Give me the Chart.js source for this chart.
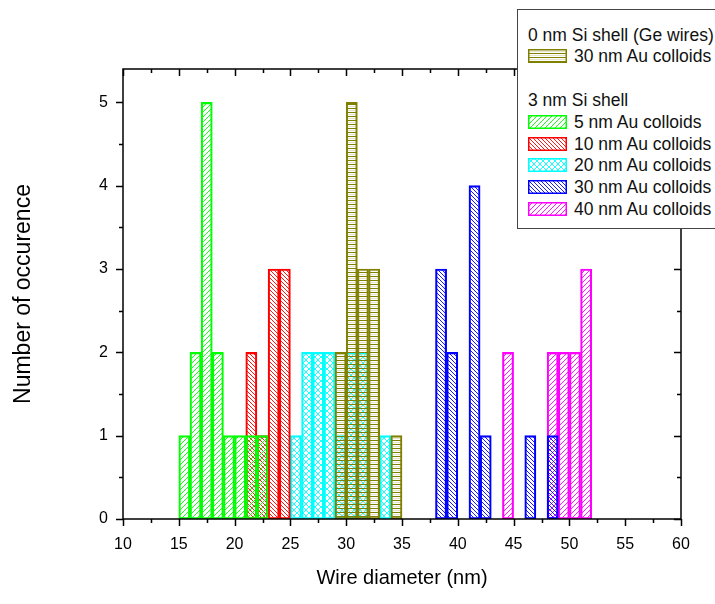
<!DOCTYPE html>
<html><head><meta charset="utf-8">
<script src="https://cdn.jsdelivr.net/npm/chart.js@4"></script>
<style>
html,body{margin:0;padding:0;background:#fff;overflow:hidden;}
#wrap{position:relative;width:715px;height:604px;overflow:hidden;}
#legend{position:absolute;left:517px;top:9px;width:230px;height:220px;border:1.5px solid #444;background:#fff;font-family:"Liberation Sans",Arial,sans-serif;font-size:17.5px;color:#111;box-sizing:border-box;}
.row{position:absolute;height:22px;line-height:22px;white-space:nowrap;}
.sw{position:absolute;left:10px;}
</style></head>
<body><div id="wrap"><canvas id="c" width="715" height="604"></canvas>
<div id="legend"></div></div>
<script>
// bin centres (nm) and counts per series, bins 1 nm wide
const ge30X = [29.5, 30.5, 31.5, 32.5, 34.5];
const ge30N = [2, 5, 3, 3, 1];
const si5X = [15.5, 16.5, 17.5, 18.5, 19.5, 20.5, 21.5, 22.5];
const si5N = [1, 2, 5, 2, 1, 1, 1, 1];
const si10X = [21.5, 22.5, 23.5, 24.5];
const si10N = [2, 1, 3, 3];
const si20X = [25.5, 26.5, 27.5, 28.5, 29.5, 30.5, 31.5, 33.5];
const si20N = [1, 2, 2, 2, 1, 2, 2, 1];
const si30X = [38.5, 39.5, 41.5, 42.5, 46.5, 48.5];
const si30N = [3, 2, 4, 1, 1, 1];
const si40X = [44.5, 48.5, 49.5, 50.5, 51.5];
const si40N = [2, 2, 2, 2, 3];
const xTicks = [10, 15, 20, 25, 30, 35, 40, 45, 50, 55, 60];
const yTicks = [0, 1, 2, 3, 4, 5];
const seriesNames = ['30 nm Au colloids', '5 nm Au colloids', '10 nm Au colloids', '20 nm Au colloids', '30 nm Au colloids', '40 nm Au colloids'];
const groupHeaders = ['0 nm Si shell (Ge wires)', '3 nm Si shell'];

const FONT = '"Liberation Sans", Arial, sans-serif';

function makeTile(color, type, s) {
  const c = document.createElement('canvas'); c.width = s; c.height = s;
  const g = c.getContext('2d'); g.strokeStyle = color; g.lineWidth = 0.9;
  g.beginPath();
  if (type === '/' || type === 'x') {
    g.moveTo(-1, s + 1); g.lineTo(s + 1, -1);
    g.moveTo(-1, 1); g.lineTo(1, -1);
    g.moveTo(s - 1, s + 1); g.lineTo(s + 1, s - 1);
  }
  if (type === '\\' || type === 'x') {
    g.moveTo(-1, -1); g.lineTo(s + 1, s + 1);
    g.moveTo(s - 1, -1); g.lineTo(s + 1, 1);
    g.moveTo(-1, s - 1); g.lineTo(1, s + 1);
  }
  if (type === '-') {
    g.lineWidth = 1;
    g.moveTo(0, 0.5); g.lineTo(s, 0.5);
  }
  g.stroke();
  if (type === '-') {
    g.strokeStyle = 'rgba(200,190,140,0.45)';
    g.beginPath(); g.moveTo(0, 2.5); g.lineTo(s, 2.5); g.stroke();
  }
  return c;
}
const styles = [
  {color: '#808000', type: '-', s: 4},
  {color: '#00ff00', type: '/', s: 5},
  {color: '#ff0000', type: '\\', s: 4},
  {color: '#00ffff', type: 'x', s: 6},
  {color: '#0000ff', type: '\\', s: 4},
  {color: '#ff00ff', type: '/', s: 5}
];
const ctx = document.getElementById('c').getContext('2d');
const tiles = styles.map(st => makeTile(st.color, st.type, st.s));
const pats = tiles.map(t => ctx.createPattern(t, 'repeat'));

const xs = [ge30X, si5X, si10X, si20X, si30X, si40X];
const ns = [ge30N, si5N, si10N, si20N, si30N, si40N];
const datasets = xs.map((xa, i) => ({
  label: seriesNames[i],
  data: xa.map((x, j) => ({x: x, y: ns[i][j]})),
  backgroundColor: pats[i],
  borderColor: styles[i].color,
  borderWidth: 1.5,
  borderSkipped: false,
  grouped: false,
  barPercentage: 1,
  categoryPercentage: 1
}));

const framePlugin = {
  id: 'frame',
  afterDraw(chart) {
    const c = chart.ctx, a = chart.chartArea;
    const sx = chart.scales.x, sy = chart.scales.y;
    c.save();
    c.strokeStyle = '#000'; c.lineWidth = 1.5;
    c.strokeRect(a.left, a.top, a.right - a.left, a.bottom - a.top);
    c.beginPath();
    for (let v = 10; v <= 60.001; v += 2.5) {
      const px = Math.round(sx.getPixelForValue(v)) + 0.5;
      const L = (Math.abs(v % 5) < 1e-6) ? 7 : 4;
      c.moveTo(px, a.bottom); c.lineTo(px, a.bottom + L);
      c.moveTo(px, a.top); c.lineTo(px, a.top + L);
    }
    for (let v = 0; v <= 5.001; v += 0.5) {
      const py = Math.round(sy.getPixelForValue(v)) + 0.5;
      const L = (Math.abs(v % 1) < 1e-6) ? 7 : 4;
      c.moveTo(a.left, py); c.lineTo(a.left - L, py);
      c.moveTo(a.right, py); c.lineTo(a.right - L, py);
    }
    c.stroke();
    c.restore();
  }
};

new Chart(ctx, {
  type: 'bar',
  data: {datasets},
  options: {
    responsive: false,
    animation: false,
    layout: {padding: {top: 69, right: 34, left: 0, bottom: 0}},
    plugins: {legend: {display: false}, tooltip: {enabled: false}},
    scales: {
      x: {
        type: 'linear', min: 10, max: 60, offset: false,
        afterBuildTicks: s => { s.ticks = xTicks.map(v => ({value: v})); },
        afterFit: s => { s.height = 85; },
        grid: {display: false},
        border: {display: false},
        ticks: {font: {family: FONT, size: 16}, color: '#000', padding: 8, maxRotation: 0, autoSkip: false},
        title: {display: true, text: 'Wire diameter (nm)', color: '#000', font: {family: FONT, size: 20}, padding: {top: 0, bottom: 14}}
      },
      y: {
        min: 0, max: 5.4,
        afterBuildTicks: s => { s.ticks = yTicks.map(v => ({value: v})); },
        afterFit: s => { s.width = 123; },
        grid: {display: false},
        border: {display: false},
        ticks: {font: {family: FONT, size: 16}, color: '#000', padding: 7},
        title: {display: true, text: 'Number of occurence', color: '#000', font: {family: FONT, size: 23}, padding: {top: 10, bottom: 0}}
      }
    }
  },
  plugins: [framePlugin]
});

// legend
const lg = document.getElementById('legend');
const rows = [
  {text: groupHeaders[0], cy: 25},
  {text: seriesNames[0], cy: 46, si: 0},
  {text: groupHeaders[1], cy: 90},
  {text: seriesNames[1], cy: 112, si: 1},
  {text: seriesNames[2], cy: 134, si: 2},
  {text: seriesNames[3], cy: 155, si: 3},
  {text: seriesNames[4], cy: 177, si: 4},
  {text: seriesNames[5], cy: 199, si: 5}
];
rows.forEach(r => {
  const d = document.createElement('div'); d.className = 'row';
  d.style.top = (r.cy - 11) + 'px';
  d.style.left = (r.si === undefined ? 10 : 56) + 'px';
  d.textContent = r.text;
  lg.appendChild(d);
  if (r.si !== undefined) {
    const cv = document.createElement('canvas'); cv.width = 39; cv.height = 14; cv.className = 'sw';
    cv.style.top = (r.cy - 7) + 'px';
    const g = cv.getContext('2d');
    g.fillStyle = g.createPattern(tiles[r.si], 'repeat'); g.fillRect(0, 0, 39, 14);
    g.strokeStyle = styles[r.si].color; g.lineWidth = 1.5; g.strokeRect(0.75, 0.75, 37.5, 12.5);
    lg.appendChild(cv);
  }
});
</script></body></html>
